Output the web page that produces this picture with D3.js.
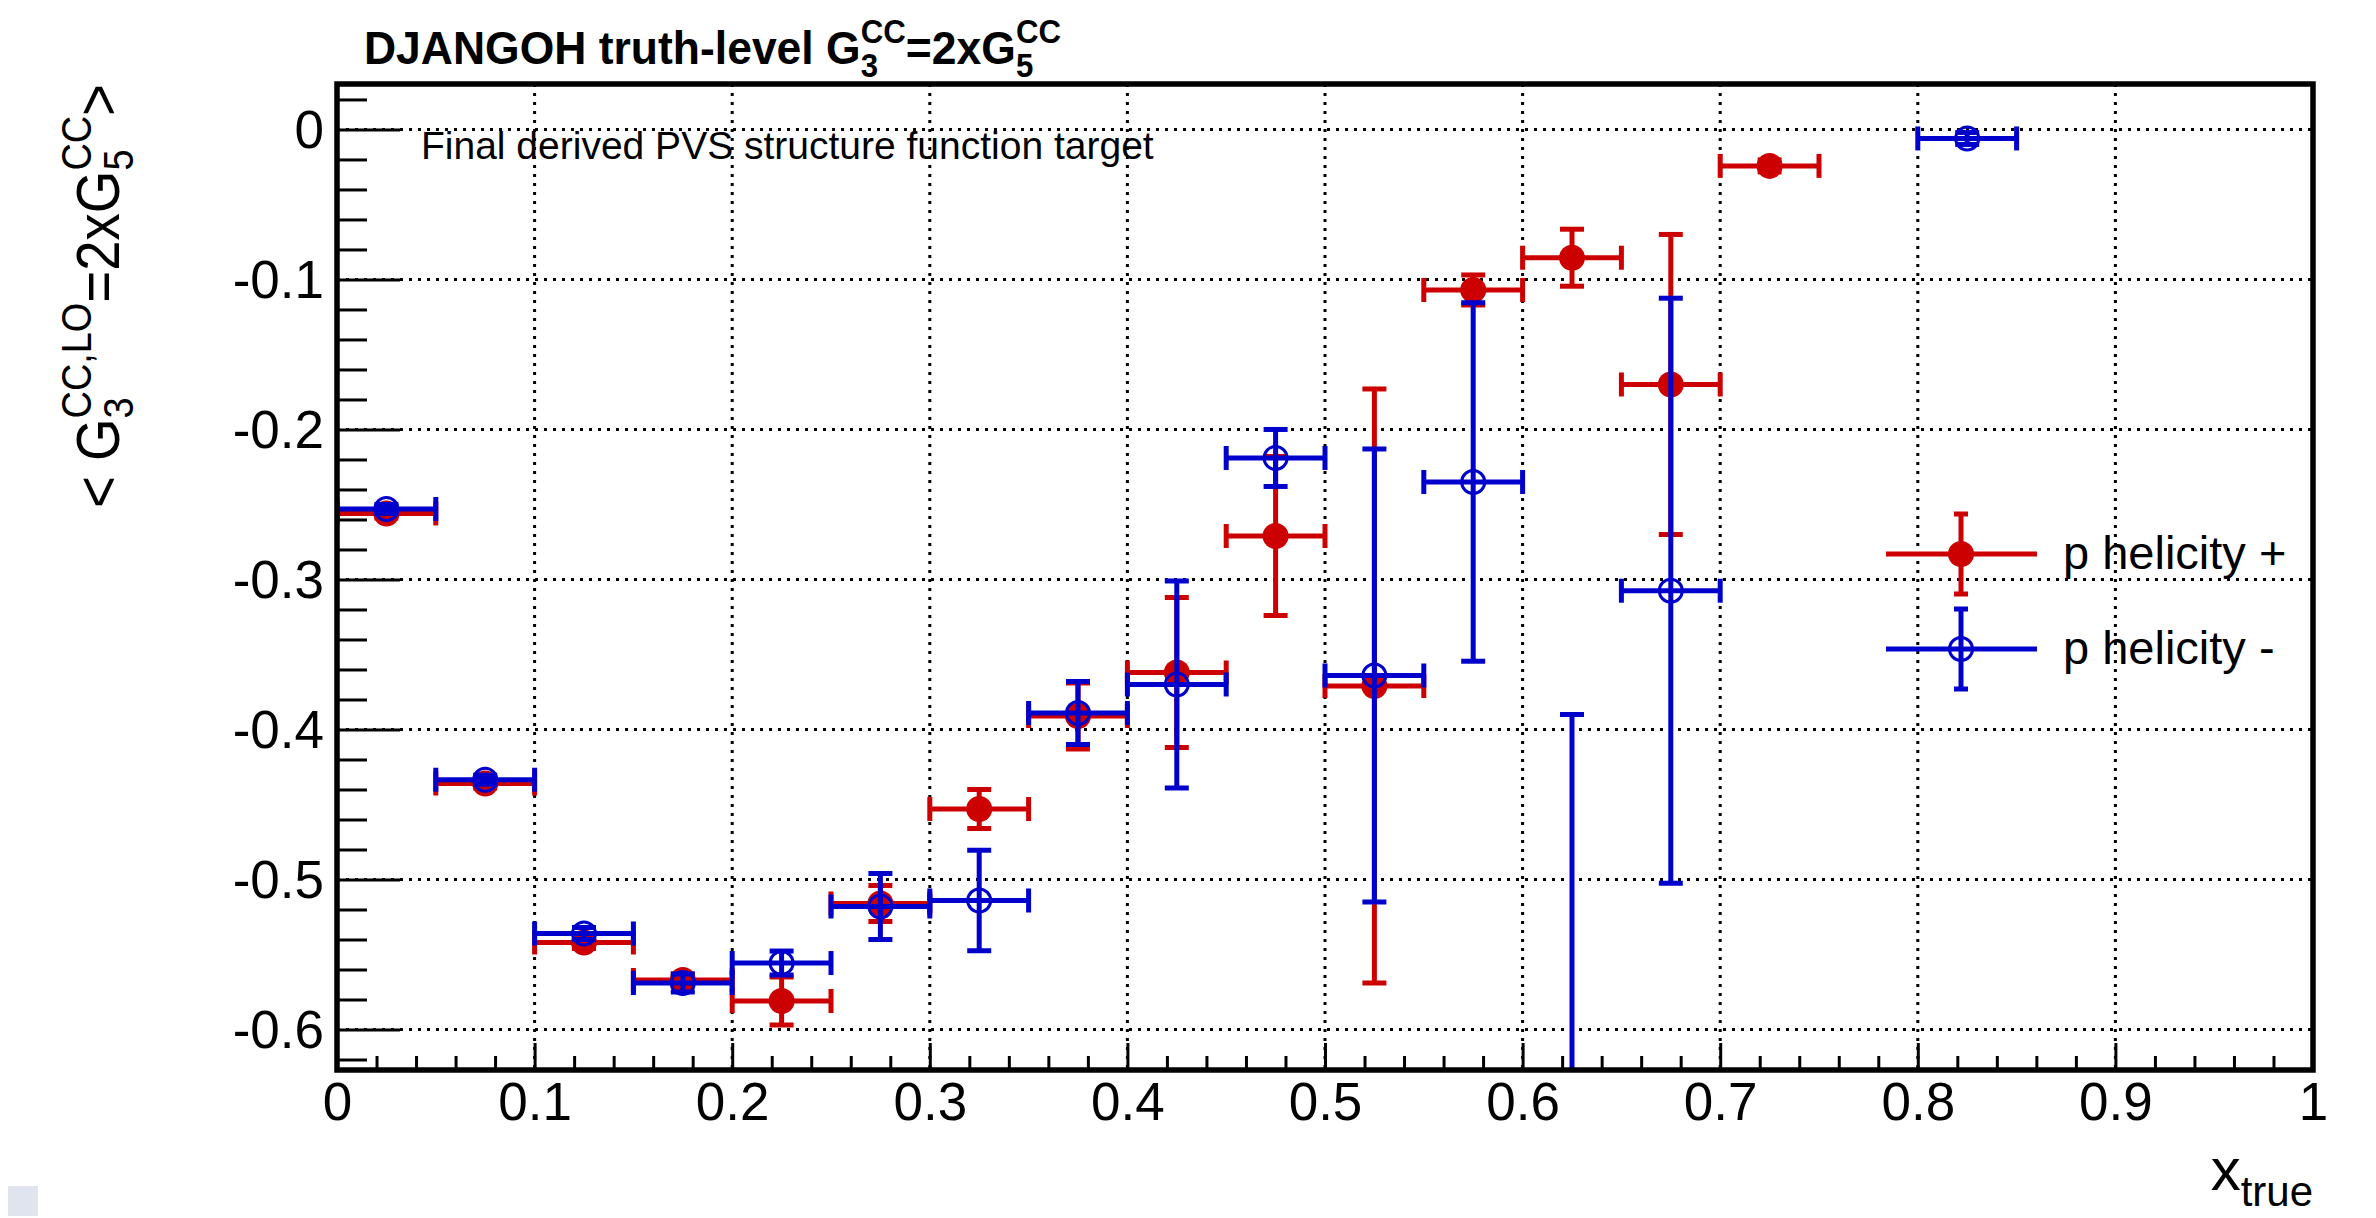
<!DOCTYPE html>
<html>
<head>
<meta charset="utf-8">
<script src="https://cdn.jsdelivr.net/npm/d3@7"></script>
<style>
  html, body { margin: 0; padding: 0; background: #ffffff; }
  svg { display: block; }
  text { font-family: "Liberation Sans", Arial, Helvetica, sans-serif; fill: #000; }
</style>
</head>
<body>
<svg id="chart" width="2376" height="1218"></svg>
<script>
// ---- data: bin centres in x_true, bin half width, and the two helicity series ----
const binHalfWidth = 0.025;

const plusX   = [0.025, 0.075, 0.125, 0.175, 0.225, 0.275, 0.325, 0.375, 0.425, 0.475, 0.525, 0.575, 0.625, 0.675, 0.725];
const plusY   = [-0.256, -0.436, -0.542, -0.567, -0.581, -0.516, -0.453, -0.391, -0.362, -0.271, -0.371, -0.107, -0.0855, -0.170, -0.0243];
const plusErr = [0.003, 0.003, 0.004, 0.004, 0.016, 0.012, 0.013, 0.022, 0.050, 0.053, 0.198, 0.010, 0.019, 0.100, 0.004];

const minusX   = [0.025, 0.075, 0.125, 0.175, 0.225, 0.275, 0.325, 0.375, 0.425, 0.475, 0.525, 0.575, 0.625, 0.675, 0.825];
const minusY   = [-0.253, -0.4335, -0.536, -0.569, -0.5557, -0.518, -0.514, -0.389, -0.370, -0.219, -0.364, -0.235, -0.92, -0.3075, -0.006];
const minusErr = [0.003, 0.003, 0.004, 0.006, 0.008, 0.022, 0.0335, 0.021, 0.069, 0.019, 0.151, 0.1195, 0.53, 0.195, 0.004];

const seriesNames = ["p helicity +", "p helicity -"];
const seriesColors = ["#cc0000", "#0000cc"];

// axis ticks and labels
const xMajorTicks = [0, 0.1, 0.2, 0.3, 0.4, 0.5, 0.6, 0.7, 0.8, 0.9, 1];
const xTickLabels = ["0", "0.1", "0.2", "0.3", "0.4", "0.5", "0.6", "0.7", "0.8", "0.9", "1"];
const yMajorTicks = [0, -0.1, -0.2, -0.3, -0.4, -0.5, -0.6];
const yTickLabels = ["0", "-0.1", "-0.2", "-0.3", "-0.4", "-0.5", "-0.6"];
const xDomain = [0, 1];
const yDomain = [-0.627, 0.0303];

// ---- layout ----
const W = 2376, H = 1218;
const plot = { left: 337, right: 2313, top: 84, bottom: 1070 };
const FONT = '"Liberation Sans", Arial, Helvetica, sans-serif';

const svg = d3.select("#chart");
svg.append("rect").attr("width", W).attr("height", H).attr("fill", "#ffffff");

const x = d3.scaleLinear().domain(xDomain).range([plot.left, plot.right]);
const y = d3.scaleLinear().domain(yDomain).range([plot.bottom, plot.top]);

// minor tick positions every 0.02
const xMinor = d3.range(0, 51).map(i => +(i * 0.02).toFixed(2)).filter(v => Math.abs(v * 10 - Math.round(v * 10)) > 1e-6);
const yMinor = d3.range(-31, 2).map(i => +(i * 0.02).toFixed(2)).filter(v => Math.abs(v * 10 - Math.round(v * 10)) > 1e-6 && v >= yDomain[0] && v <= yDomain[1]);

// ---- dotted grid ----
const grid = svg.append("g").attr("stroke", "#000").attr("stroke-width", 3).attr("stroke-dasharray", "3,6");
grid.selectAll("line.gx").data(xMajorTicks.filter(v => v > 0 && v < 1)).join("line")
  .attr("x1", d => x(d)).attr("x2", d => x(d)).attr("y1", plot.top).attr("y2", plot.bottom);
grid.selectAll("line.gy").data(yMajorTicks).join("line")
  .attr("y1", d => y(d)).attr("y2", d => y(d)).attr("x1", plot.left).attr("x2", plot.right);

// ---- data points with error bars ----
svg.append("defs").append("clipPath").attr("id", "plotClip")
  .append("rect").attr("x", plot.left).attr("y", plot.top)
  .attr("width", plot.right - plot.left).attr("height", plot.bottom - plot.top);

const dataLayer = svg.append("g").attr("clip-path", "url(#plotClip)");
const CAP = 12;   // half length of error bar end caps
const LW = 5;     // error bar line width

function drawSeries(xs, ys, errs, color, filled) {
  const pts = xs.map((d, i) => ({ x: d, y: ys[i], e: errs[i] }));
  const g = dataLayer.append("g").attr("stroke", color).attr("stroke-width", LW).attr("fill", "none");
  // horizontal (bin width) bars with end caps
  g.selectAll(null).data(pts).join("line")
    .attr("x1", d => x(d.x - binHalfWidth)).attr("x2", d => x(d.x + binHalfWidth))
    .attr("y1", d => y(d.y)).attr("y2", d => y(d.y));
  g.selectAll(null).data(pts.flatMap(d => [d.x - binHalfWidth, d.x + binHalfWidth].map(e => ({ xe: e, y: d.y })))).join("line")
    .attr("x1", d => x(d.xe)).attr("x2", d => x(d.xe))
    .attr("y1", d => y(d.y) - CAP).attr("y2", d => y(d.y) + CAP);
  // vertical (statistical) bars with caps
  g.selectAll(null).data(pts).join("line")
    .attr("x1", d => x(d.x)).attr("x2", d => x(d.x))
    .attr("y1", d => y(d.y + d.e)).attr("y2", d => y(d.y - d.e));
  g.selectAll(null).data(pts.flatMap(d => [d.y + d.e, d.y - d.e].map(v => ({ x: d.x, v })))).join("line")
    .attr("x1", d => x(d.x) - CAP).attr("x2", d => x(d.x) + CAP)
    .attr("y1", d => y(d.v)).attr("y2", d => y(d.v));
  // markers
  const m = dataLayer.append("g");
  if (filled) {
    m.selectAll("circle").data(pts).join("circle")
      .attr("cx", d => x(d.x)).attr("cy", d => y(d.y)).attr("r", 13).attr("fill", color);
  } else {
    m.selectAll("circle").data(pts).join("circle")
      .attr("cx", d => x(d.x)).attr("cy", d => y(d.y)).attr("r", 11.5)
      .attr("fill", "none").attr("stroke", color).attr("stroke-width", 3);
  }
}
drawSeries(plusX, plusY, plusErr, seriesColors[0], true);
drawSeries(minusX, minusY, minusErr, seriesColors[1], false);

// ---- axes (ticks inside the frame) ----
const yAxisMajor = d3.axisLeft(y).tickValues(yMajorTicks).tickSizeInner(-63).tickSizeOuter(0).tickPadding(13)
  .tickFormat((d, i) => yTickLabels[i]);
const yAxisMinor = d3.axisLeft(y).tickValues(yMinor).tickSizeInner(-30).tickSizeOuter(0).tickFormat("");
const xAxisMajor = d3.axisBottom(x).tickValues(xMajorTicks).tickSizeInner(-27).tickSizeOuter(0).tickPadding(12)
  .tickFormat((d, i) => xTickLabels[i]);
const xAxisMinor = d3.axisBottom(x).tickValues(xMinor).tickSizeInner(-14).tickSizeOuter(0).tickFormat("");

function styleAxis(sel) {
  sel.select(".domain").remove();
  sel.selectAll(".tick line").attr("stroke", "#000").attr("stroke-width", 3);
  sel.selectAll(".tick text").attr("font-family", FONT).attr("font-size", 53).attr("fill", "#000");
}
svg.append("g").attr("transform", `translate(${plot.left},0)`).call(yAxisMinor).call(styleAxis);
svg.append("g").attr("transform", `translate(${plot.left},0)`).call(yAxisMajor).call(styleAxis)
  .selectAll(".tick text").attr("dy", "0.34em");
svg.append("g").attr("transform", `translate(0,${plot.bottom})`).call(xAxisMinor).call(styleAxis);
svg.append("g").attr("transform", `translate(0,${plot.bottom})`).call(xAxisMajor).call(styleAxis)
  .selectAll(".tick text").attr("dy", "0.71em");

// frame
svg.append("rect").attr("x", plot.left).attr("y", plot.top)
  .attr("width", plot.right - plot.left).attr("height", plot.bottom - plot.top)
  .attr("fill", "none").attr("stroke", "#000").attr("stroke-width", 5.5);

// ---- rich text with stacked sub/superscripts ----
// parts: {t, size, shift, stack, weight}; a part with stack:true starts where the previous one started.
// When fitWidth is given, the run is squeezed along its direction to that length.
function richText(parent, parts, anchor, fitWidth) {
  const outer = parent.append("g");
  const g = outer.append("g");
  let cursor = 0, prevStart = 0;
  parts.forEach(p => {
    const start = p.stack ? prevStart : cursor;
    const t = g.append("text").attr("x", start).attr("y", p.shift || 0)
      .attr("font-size", p.size).attr("font-weight", p.weight || "normal")
      .attr("font-family", FONT).style("white-space", "pre").text(p.t);
    const w = t.node().getComputedTextLength();
    cursor = Math.max(cursor, start + w);
    prevStart = start;
  });
  const k = fitWidth ? fitWidth / cursor : 1;
  g.attr("transform", `scale(${k},1)`);
  if (anchor === "end") outer.attr("transform", `translate(${-cursor * k},0)`);
  return outer;
}

// title
const titleG = svg.append("g").attr("transform", "translate(364,64)");
richText(titleG, [
  { t: "DJANGOH truth-level G", size: 47, weight: "bold" },
  { t: "3", size: 33, shift: 13, weight: "bold" },
  { t: "CC", size: 33, shift: -21, stack: true, weight: "bold" },
  { t: "=2xG", size: 47, weight: "bold" },
  { t: "5", size: 33, shift: 13, weight: "bold" },
  { t: "CC", size: 33, shift: -21, stack: true, weight: "bold" }
], "start", 697);

// y axis title, rotated, right-aligned to the top of the axis
const yTitleG = svg.append("g").attr("transform", `translate(119,${plot.top}) rotate(-90)`);
richText(yTitleG, [
  { t: "< G", size: 62 },
  { t: "3", size: 43, shift: 14 },
  { t: "CC,LO", size: 43, shift: -28, stack: true },
  { t: "=2xG", size: 62 },
  { t: "5", size: 43, shift: 14 },
  { t: "CC", size: 43, shift: -28, stack: true },
  { t: ">", size: 62 }
], "end", 424);

// x axis title
const xTitleG = svg.append("g").attr("transform", `translate(${plot.right},1190)`);
richText(xTitleG, [
  { t: "x", size: 60 },
  { t: "true", size: 42, shift: 16 }
], "end");

// annotation
svg.append("text").attr("x", 421).attr("y", 159).attr("font-size", 39)
  .attr("font-family", FONT).text("Final derived PVS structure function target");

// ---- legend ----
const legend = svg.append("g");
const legendRows = [554, 649];
seriesNames.forEach((name, i) => {
  const cy = legendRows[i], cx = 1961, col = seriesColors[i];
  const lg = legend.append("g").attr("stroke", col).attr("stroke-width", LW);
  lg.append("line").attr("x1", 1886).attr("x2", 2037).attr("y1", cy).attr("y2", cy);
  lg.append("line").attr("x1", cx).attr("x2", cx).attr("y1", cy - 40).attr("y2", cy + 40);
  lg.append("line").attr("x1", cx - 7).attr("x2", cx + 7).attr("y1", cy - 40).attr("y2", cy - 40);
  lg.append("line").attr("x1", cx - 7).attr("x2", cx + 7).attr("y1", cy + 40).attr("y2", cy + 40);
  if (i === 0) {
    legend.append("circle").attr("cx", cx).attr("cy", cy).attr("r", 13).attr("fill", col);
  } else {
    legend.append("circle").attr("cx", cx).attr("cy", cy).attr("r", 11.5).attr("fill", "none")
      .attr("stroke", col).attr("stroke-width", 3);
  }
  legend.append("text").attr("x", 2063).attr("y", cy + 15).attr("font-size", 47)
    .attr("font-family", FONT).text(name);
});

// small corner swatch
svg.append("rect").attr("x", 8).attr("y", 1186).attr("width", 30).attr("height", 30).attr("fill", "#dfe4ee");
</script>
</body>
</html>
